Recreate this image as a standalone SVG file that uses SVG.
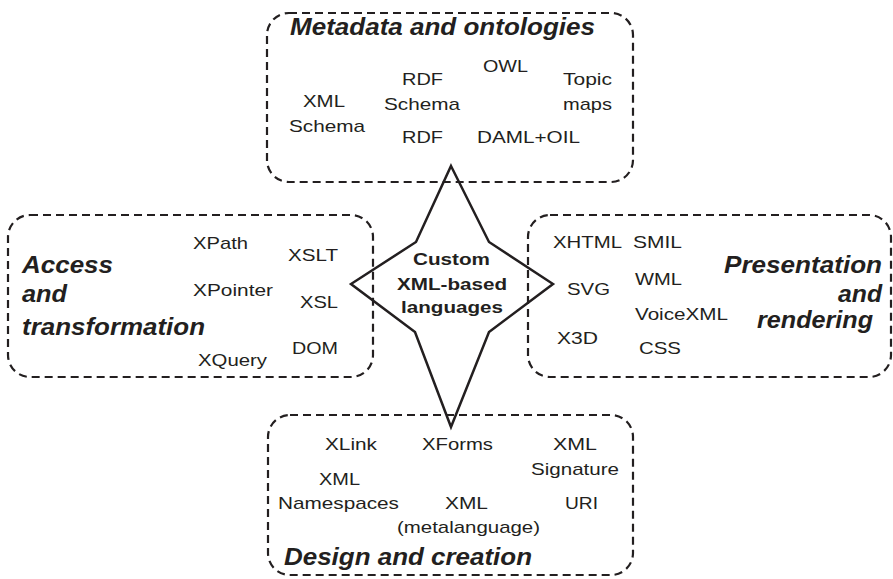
<svg xmlns="http://www.w3.org/2000/svg" width="893" height="579" viewBox="0 0 893 579">
<style>
.box{fill:none;stroke:#231f20;stroke-width:2.2;stroke-dasharray:8 5}
.star{fill:#fff;stroke:#231f20;stroke-width:2.5;stroke-linejoin:miter}
text{font-family:"Liberation Sans",Arial,sans-serif;fill:#231f20}
.it{font-size:17px}
.ttl{font-size:24px;font-weight:bold;font-style:italic}
.ctr{font-size:17px;font-weight:bold}
</style>
<rect width="893" height="579" fill="#fff"/>
<g id="custom">
<polygon class="star" points="451,166 489,242 553,284 489,332 451,427 415,332 351,284 416,242"/>
<text class="ctr" x="413" y="265" textLength="77" lengthAdjust="spacingAndGlyphs">Custom</text>
<text class="ctr" x="397" y="290" textLength="110" lengthAdjust="spacingAndGlyphs">XML-based</text>
<text class="ctr" x="401" y="313" textLength="102" lengthAdjust="spacingAndGlyphs">languages</text>
</g>
<g id="metadata">
<rect class="box" x="267" y="13" width="366" height="169" rx="22"/>
<text class="ttl" x="290" y="35" textLength="305" lengthAdjust="spacingAndGlyphs">Metadata and ontologies</text>
<text class="it" x="303" y="107" textLength="42" lengthAdjust="spacingAndGlyphs">XML</text>
<text class="it" x="289" y="132" textLength="76" lengthAdjust="spacingAndGlyphs">Schema</text>
<text class="it" x="402" y="85" textLength="41" lengthAdjust="spacingAndGlyphs">RDF</text>
<text class="it" x="384" y="110" textLength="76" lengthAdjust="spacingAndGlyphs">Schema</text>
<text class="it" x="402" y="143" textLength="41" lengthAdjust="spacingAndGlyphs">RDF</text>
<text class="it" x="483" y="72" textLength="45" lengthAdjust="spacingAndGlyphs">OWL</text>
<text class="it" x="563" y="85" textLength="49" lengthAdjust="spacingAndGlyphs">Topic</text>
<text class="it" x="563" y="110" textLength="49" lengthAdjust="spacingAndGlyphs">maps</text>
<text class="it" x="477" y="143" textLength="103" lengthAdjust="spacingAndGlyphs">DAML+OIL</text>
</g>
<g id="access">
<rect class="box" x="8" y="215" width="365" height="162" rx="22"/>
<text class="ttl" x="22" y="273" textLength="91" lengthAdjust="spacingAndGlyphs">Access</text>
<text class="ttl" x="22" y="302" textLength="45" lengthAdjust="spacingAndGlyphs">and</text>
<text class="ttl" x="22" y="335" textLength="183" lengthAdjust="spacingAndGlyphs">transformation</text>
<text class="it" x="193" y="249" textLength="55" lengthAdjust="spacingAndGlyphs">XPath</text>
<text class="it" x="288" y="261" textLength="50" lengthAdjust="spacingAndGlyphs">XSLT</text>
<text class="it" x="193" y="296" textLength="80" lengthAdjust="spacingAndGlyphs">XPointer</text>
<text class="it" x="300" y="308" textLength="38" lengthAdjust="spacingAndGlyphs">XSL</text>
<text class="it" x="292" y="354" textLength="46" lengthAdjust="spacingAndGlyphs">DOM</text>
<text class="it" x="198" y="366" textLength="69" lengthAdjust="spacingAndGlyphs">XQuery</text>
</g>
<g id="presentation">
<rect class="box" x="528" y="215" width="363" height="162" rx="22"/>
<text class="ttl" x="724" y="273" textLength="158" lengthAdjust="spacingAndGlyphs">Presentation</text>
<text class="ttl" x="838" y="302" textLength="44" lengthAdjust="spacingAndGlyphs">and</text>
<text class="ttl" x="757" y="328" textLength="116" lengthAdjust="spacingAndGlyphs">rendering</text>
<text class="it" x="553" y="248" textLength="69" lengthAdjust="spacingAndGlyphs">XHTML</text>
<text class="it" x="633" y="248" textLength="49" lengthAdjust="spacingAndGlyphs">SMIL</text>
<text class="it" x="635" y="285" textLength="47" lengthAdjust="spacingAndGlyphs">WML</text>
<text class="it" x="567" y="295" textLength="43" lengthAdjust="spacingAndGlyphs">SVG</text>
<text class="it" x="635" y="320" textLength="93" lengthAdjust="spacingAndGlyphs">VoiceXML</text>
<text class="it" x="557" y="344" textLength="41" lengthAdjust="spacingAndGlyphs">X3D</text>
<text class="it" x="639" y="354" textLength="42" lengthAdjust="spacingAndGlyphs">CSS</text>
</g>
<g id="design">
<rect class="box" x="268" y="415" width="365" height="160" rx="22"/>
<text class="it" x="325" y="450" textLength="52" lengthAdjust="spacingAndGlyphs">XLink</text>
<text class="it" x="422" y="450" textLength="71" lengthAdjust="spacingAndGlyphs">XForms</text>
<text class="it" x="553" y="450" textLength="44" lengthAdjust="spacingAndGlyphs">XML</text>
<text class="it" x="531" y="475" textLength="88" lengthAdjust="spacingAndGlyphs">Signature</text>
<text class="it" x="319" y="485" textLength="41" lengthAdjust="spacingAndGlyphs">XML</text>
<text class="it" x="278" y="509" textLength="121" lengthAdjust="spacingAndGlyphs">Namespaces</text>
<text class="it" x="445" y="509" textLength="43" lengthAdjust="spacingAndGlyphs">XML</text>
<text class="it" x="397" y="533" textLength="143" lengthAdjust="spacingAndGlyphs">(metalanguage)</text>
<text class="it" x="565" y="509" textLength="33" lengthAdjust="spacingAndGlyphs">URI</text>
<text class="ttl" x="284" y="565" textLength="248" lengthAdjust="spacingAndGlyphs">Design and creation</text>
</g>
</svg>
